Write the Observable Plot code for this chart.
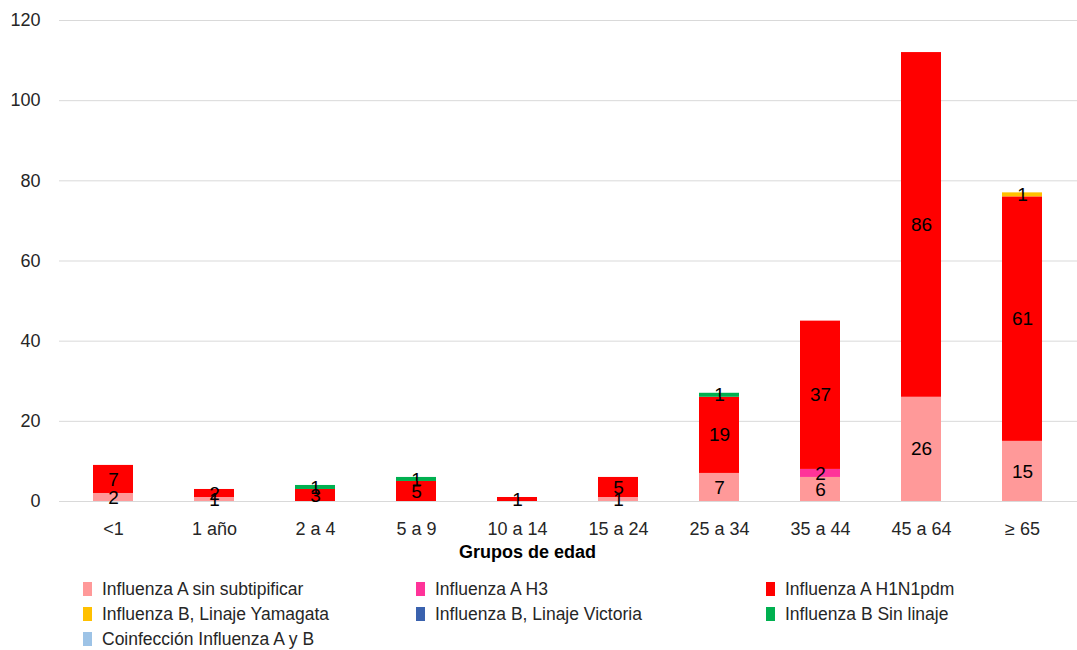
<!DOCTYPE html>
<html>
<head>
<meta charset="utf-8">
<script src="https://cdn.jsdelivr.net/npm/d3@7"></script>
<script src="https://cdn.jsdelivr.net/npm/@observablehq/plot@0.6"></script>
<style>
  body { margin: 0; background: #fff; font-family: "Liberation Sans", Arial, sans-serif; }
  #chart { position: relative; width: 1077px; }
  #legend { position: relative; width: 1077px; height: 75px; font-size: 17.5px; color: #262626; }
  .item { position: absolute; display: flex; align-items: center; white-space: nowrap; }
  .sw { width: 9px; height: 14px; margin-right: 10px; }
</style>
</head>
<body>
<div id="chart"></div>
<div id="legend"></div>
<script>
const categories = ["<1", "1 año", "2 a 4", "5 a 9", "10 a 14", "15 a 24", "25 a 34", "35 a 44", "45 a 64", "≥ 65"];
const seriesNames = [
  "Influenza A sin subtipificar",
  "Influenza A H3",
  "Influenza A H1N1pdm",
  "Influenza B, Linaje Yamagata",
  "Influenza B, Linaje Victoria",
  "Influenza B Sin linaje",
  "Coinfección Influenza A y B"
];
const seriesColors = ["#FF9999", "#FF3399", "#FF0000", "#FFC000", "#3A62AE", "#00B050", "#9DC3E6"];
const sinSubtipificar = [2, 1, 0, 0, 0, 1, 7, 6, 26, 15];
const h3 =              [0, 0, 0, 0, 0, 0, 0, 2, 0, 0];
const h1n1pdm =         [7, 2, 3, 5, 1, 5, 19, 37, 86, 61];
const yamagata =        [0, 0, 0, 0, 0, 0, 0, 0, 0, 1];
const victoria =        [0, 0, 0, 0, 0, 0, 0, 0, 0, 0];
const sinLinaje =       [0, 0, 1, 1, 0, 0, 1, 0, 0, 0];
const coinfeccion =     [0, 0, 0, 0, 0, 0, 0, 0, 0, 0];
const yTicks = [0, 20, 40, 60, 80, 100, 120];

const seriesValues = [sinSubtipificar, h3, h1n1pdm, yamagata, victoria, sinLinaje, coinfeccion];
const data = [];
seriesNames.forEach((s, si) => {
  categories.forEach((c, ci) => {
    const v = seriesValues[si][ci];
    if (v > 0) data.push({ cat: c, series: s, value: v });
  });
});

const chart = Plot.plot({
  width: 1077,
  height: 575,
  marginLeft: 59,
  marginRight: 0,
  marginTop: 20,
  marginBottom: 74,
  style: { fontFamily: "Liberation Sans, Arial, sans-serif", fontSize: "18px", color: "#262626", background: "#fff" },
  x: { domain: categories, paddingInner: 0.6, paddingOuter: 0.3, label: null, tickSize: 0, tickPadding: 21 },
  y: { domain: [0, 120], ticks: yTicks, label: null, tickSize: 0, tickPadding: 19 },
  color: { domain: seriesNames, range: seriesColors },
  marks: [
    Plot.gridY(yTicks, { stroke: "#d9d9d9", strokeOpacity: 1, strokeWidth: 1 }),
    Plot.barY(data, { x: "cat", y: "value", fill: "series", order: seriesNames }),
    Plot.text(data, Plot.stackY({ x: "cat", y: "value", z: "series", order: seriesNames, text: "value", fill: "#000", fontSize: 19 })),
    Plot.text(["Grupos de edad"], { frameAnchor: "bottom", dy: 56, dx: -41, text: d => d, fontWeight: "bold", fontSize: 18, fill: "#000" })
  ]
});
document.getElementById("chart").appendChild(chart);

const legend = document.getElementById("legend");
const cols = [83, 416, 766];
const rows = [14, 39, 64];
seriesNames.forEach((s, i) => {
  const item = document.createElement("div");
  item.className = "item";
  item.style.left = cols[i % 3] + "px";
  item.style.top = (rows[Math.floor(i / 3)] - 10) + "px";
  item.style.height = "20px";
  const sw = document.createElement("span");
  sw.className = "sw";
  sw.style.background = seriesColors[i];
  const t = document.createElement("span");
  t.textContent = s;
  item.appendChild(sw);
  item.appendChild(t);
  legend.appendChild(item);
});
</script>
</body>
</html>
